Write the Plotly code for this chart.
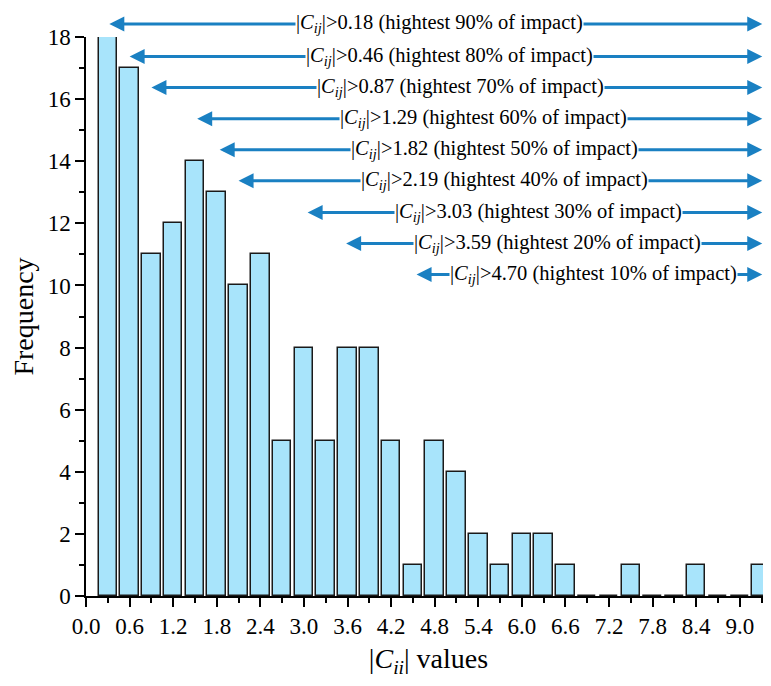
import plotly.graph_objects as go

# Histogram data (bin centers and counts)
bin_centers = [round(0.3 * i, 1) for i in range(1, 32)]
counts = [18, 17, 11, 12, 14, 13, 10, 11, 5, 8, 5, 8, 8, 5, 1, 5, 4, 2, 1, 2, 2, 1,
          0, 0, 1, 0, 0, 1, 0, 0, 1]

# Threshold arrows
thresholds = ["0.18", "0.46", "0.87", "1.29", "1.82", "2.19", "3.03", "3.59", "4.70"]
percents = [90, 80, 70, 60, 50, 40, 30, 20, 10]
arrow_start = [0.30, 0.58, 0.88, 1.51, 1.82, 2.08, 3.03, 3.56, 4.53]
arrow_y = [18.42, 17.37, 16.37, 15.37, 14.37, 13.37, 12.35, 11.35, 10.35]

X_END = 9.43
arrow_end = 9.31

tick_vals = [round(0.6 * i, 1) for i in range(16)]
tick_text = [f"{v:.1f}" for v in tick_vals]

FONT = '"Liberation Serif", "Times New Roman", Times, serif'
BAR_COLOR = "#A8E4FB"
ARROW_COLOR = "#1A80C2"
Y_MAX = 18

fig = go.Figure()
fig.add_trace(go.Bar(
    x=bin_centers, y=counts, width=0.255,
    marker=dict(color=BAR_COLOR, line=dict(color="#1a1a1a", width=1.5)),
    showlegend=False,
))

annotations = []
for th, pc, xs, yy in zip(thresholds, percents, arrow_start, arrow_y):
    yp = yy / Y_MAX
    annotations.append(dict(
        x=arrow_end, y=yp, ax=xs, ay=0, xref="x", yref="paper", axref="x", ayref="pixel",
        text="", showarrow=True, arrowside="end+start", arrowhead=2, startarrowhead=2,
        arrowsize=1, startarrowsize=1, arrowwidth=3, arrowcolor=ARROW_COLOR, standoff=0,
        startstandoff=0,
    ))
    annotations.append(dict(
        x=(xs + X_END) / 2, y=yp, xref="x", yref="paper", showarrow=False,
        text=f"|<i>C</i><sub><i>ij</i></sub>|>{th} (hightest {pc}% of impact)",
        font=dict(family=FONT, size=20.5, color="black"), bgcolor="white",
        borderpad=0, xanchor="center", yanchor="middle",
    ))

fig.update_layout(
    width=763, height=670,
    margin=dict(l=78, r=0, t=29, b=82),
    paper_bgcolor="white", plot_bgcolor="white",
    font=dict(family=FONT, size=23, color="black"),
    bargap=0,
    annotations=annotations,
    xaxis=dict(
        range=[0, X_END], tickvals=tick_vals, ticktext=tick_text,
        showline=True, linecolor="black", linewidth=1.5, mirror=False,
        ticks="outside", ticklen=9, tickwidth=1.5, tickcolor="black",
        minor=dict(dtick=0.3, tick0=0, ticks="outside", ticklen=5, tickwidth=1.5, tickcolor="black"),
        showgrid=False, zeroline=False,
        tickfont=dict(family=FONT, size=23),
        title=dict(text="|<i>C</i><sub><i>ii</i></sub>| values", font=dict(family=FONT, size=28), standoff=18),
    ),
    yaxis=dict(
        range=[0, Y_MAX], dtick=2, tick0=0,
        showline=True, linecolor="black", linewidth=1.5, mirror=False,
        ticks="outside", ticklen=9, tickwidth=1.5, tickcolor="black",
        minor=dict(dtick=1, ticks="outside", ticklen=5, tickwidth=1.5, tickcolor="black"),
        showgrid=False, zeroline=False,
        tickfont=dict(family=FONT, size=23),
        title=dict(text="Frequency", font=dict(family=FONT, size=28), standoff=8),
    ),
)

fig.write_html("out.html")
